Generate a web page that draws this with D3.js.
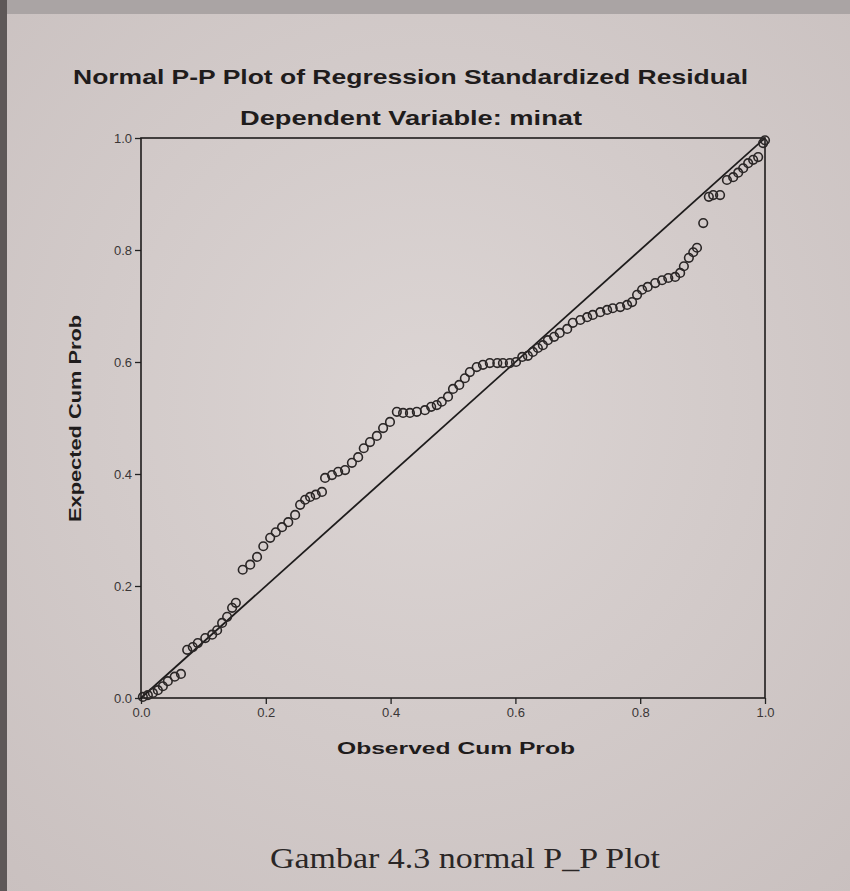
<!DOCTYPE html>
<html>
<head>
<meta charset="utf-8">
<script src="https://cdn.jsdelivr.net/npm/d3@7"></script>
<style>
  body { margin: 0; background: #d2cccb; }
  svg { display: block; }
  .tick text { font-family: Arial, "Liberation Sans", sans-serif; font-size: 13px; fill: #3a3636; }
  .tick line { stroke: #222; stroke-width: 1.3; }
</style>
</head>
<body>
<div id="chart"></div>
<script>
// observed cum prob (x) and expected cum prob (y)
var observed = [0.003, 0.011, 0.019, 0.027, 0.035, 0.043, 0.054, 0.064, 0.074, 0.083,
  0.091, 0.103, 0.114, 0.122, 0.130, 0.138, 0.146, 0.152, 0.163, 0.175,
  0.186, 0.196, 0.207, 0.216, 0.226, 0.236, 0.247, 0.255, 0.263, 0.271,
  0.280, 0.290, 0.295, 0.306, 0.316, 0.327, 0.338, 0.348, 0.357, 0.367,
  0.378, 0.388, 0.399, 0.410, 0.420, 0.431, 0.442, 0.455, 0.465, 0.474,
  0.482, 0.492, 0.500, 0.510, 0.519, 0.527, 0.538, 0.548, 0.559, 0.571,
  0.580, 0.591, 0.601, 0.611, 0.620, 0.628, 0.636, 0.644, 0.652, 0.662,
  0.671, 0.683, 0.692, 0.704, 0.715, 0.724, 0.736, 0.747, 0.756, 0.768,
  0.779, 0.787, 0.795, 0.803, 0.812, 0.824, 0.835, 0.845, 0.856, 0.864,
  0.870, 0.878, 0.885, 0.891, 0.901, 0.910, 0.917, 0.928, 0.939, 0.949,
  0.957, 0.965, 0.973, 0.981, 0.989, 0.997, 1.000];
var expected = [0.002, 0.005, 0.009, 0.014, 0.021, 0.030, 0.038, 0.043, 0.086, 0.091,
  0.098, 0.107, 0.113, 0.121, 0.134, 0.145, 0.161, 0.170, 0.229, 0.238,
  0.252, 0.271, 0.286, 0.296, 0.305, 0.314, 0.327, 0.345, 0.354, 0.359,
  0.363, 0.368, 0.393, 0.398, 0.404, 0.407, 0.420, 0.430, 0.446, 0.457,
  0.468, 0.482, 0.493, 0.511, 0.509, 0.509, 0.511, 0.514, 0.520, 0.523,
  0.529, 0.538, 0.552, 0.559, 0.571, 0.582, 0.591, 0.595, 0.598, 0.598,
  0.598, 0.598, 0.600, 0.609, 0.611, 0.618, 0.625, 0.630, 0.639, 0.645,
  0.652, 0.659, 0.670, 0.675, 0.680, 0.684, 0.689, 0.693, 0.696, 0.698,
  0.702, 0.707, 0.720, 0.729, 0.734, 0.741, 0.746, 0.750, 0.752, 0.759,
  0.771, 0.786, 0.796, 0.804, 0.848, 0.895, 0.898, 0.898, 0.925, 0.930,
  0.938, 0.946, 0.955, 0.961, 0.966, 0.991, 0.996];
var tickValues = [0.0, 0.2, 0.4, 0.6, 0.8, 1.0];
var diagonal = [0, 1];

var W = 850, H = 891;
var margin = {top: 138, right: 85, bottom: 193, left: 141},
    width = W - margin.left - margin.right,
    height = H - margin.top - margin.bottom;

var svg = d3.select('#chart').append('svg')
    .attr('width', W)
    .attr('height', H);

// paper background with a little shading like the photo
var defs = svg.append('defs');
var grad = defs.append('radialGradient').attr('id', 'paper')
    .attr('cx', '50%').attr('cy', '45%').attr('r', '75%');
grad.append('stop').attr('offset', '0%').attr('stop-color', '#dcd5d4');
grad.append('stop').attr('offset', '100%').attr('stop-color', '#c9c0bf');
svg.append('rect').attr('width', W).attr('height', H).attr('fill', 'url(#paper)');
svg.append('rect').attr('width', W).attr('height', 14).attr('fill', '#aaa4a4');
svg.append('rect').attr('width', 7).attr('height', H).attr('fill', '#5e5858');

var x = d3.scaleLinear().domain([0, 1]).range([0, width]);
var y = d3.scaleLinear().domain([0, 1]).range([height, 0]);

var g = svg.append('g')
    .attr('transform', 'translate(' + margin.left + ',' + margin.top + ')');

// axes
g.append('g')
    .attr('transform', 'translate(0,' + height + ')')
    .call(d3.axisBottom(x).tickValues(tickValues).tickFormat(d3.format('.1f'))
      .tickSize(6).tickSizeOuter(0).tickPadding(4))
    .call(function(a) { a.select('.domain').remove(); });

g.append('g')
    .call(d3.axisLeft(y).tickValues(tickValues).tickFormat(d3.format('.1f'))
      .tickSize(6).tickSizeOuter(0).tickPadding(3))
    .call(function(a) { a.select('.domain').remove(); });

// frame
g.append('rect')
    .attr('width', width).attr('height', height)
    .attr('fill', 'none')
    .attr('stroke', '#1e1c1c')
    .attr('stroke-width', 1.6);

// reference line
g.append('line')
    .attr('x1', x(diagonal[0])).attr('y1', y(diagonal[0]))
    .attr('x2', x(diagonal[1])).attr('y2', y(diagonal[1]))
    .attr('stroke', '#1e1c1c')
    .attr('stroke-width', 1.8);

// points
var pts = observed.map(function(d, i) { return {x: d, y: expected[i]}; });
g.selectAll('circle.pt')
    .data(pts)
  .enter().append('circle')
    .attr('class', 'pt')
    .attr('cx', function(d) { return x(d.x); })
    .attr('cy', function(d) { return y(d.y); })
    .attr('r', 4.3)
    .attr('fill', 'none')
    .attr('stroke', '#2a2626')
    .attr('stroke-width', 1.6);

// titles
var sans = 'Arial, "Liberation Sans", sans-serif';
svg.append('text')
    .attr('x', 73).attr('y', 84)
    .attr('textLength', 675).attr('lengthAdjust', 'spacingAndGlyphs')
    .style('font-family', sans).style('font-weight', 'bold').style('font-size', '21px')
    .style('fill', '#1f1c1c')
    .text('Normal P-P Plot of Regression Standardized Residual');

svg.append('text')
    .attr('x', 240).attr('y', 125)
    .attr('textLength', 342).attr('lengthAdjust', 'spacingAndGlyphs')
    .style('font-family', sans).style('font-weight', 'bold').style('font-size', '21px')
    .style('fill', '#1f1c1c')
    .text('Dependent Variable: minat');

svg.append('text')
    .attr('x', 337).attr('y', 754)
    .attr('textLength', 238).attr('lengthAdjust', 'spacingAndGlyphs')
    .style('font-family', sans).style('font-weight', 'bold').style('font-size', '16px')
    .style('fill', '#1f1c1c')
    .text('Observed Cum Prob');

svg.append('text')
    .attr('transform', 'translate(81,522) rotate(-90)')
    .attr('textLength', 207).attr('lengthAdjust', 'spacingAndGlyphs')
    .style('font-family', sans).style('font-weight', 'bold').style('font-size', '16px')
    .style('fill', '#1f1c1c')
    .text('Expected Cum Prob');

svg.append('text')
    .attr('x', 270).attr('y', 868)
    .attr('textLength', 390).attr('lengthAdjust', 'spacingAndGlyphs')
    .style('font-family', '"Liberation Serif", "DejaVu Serif", serif').style('font-size', '29px')
    .style('fill', '#2a2626')
    .text('Gambar 4.3 normal P_P Plot');
</script>
</body>
</html>
